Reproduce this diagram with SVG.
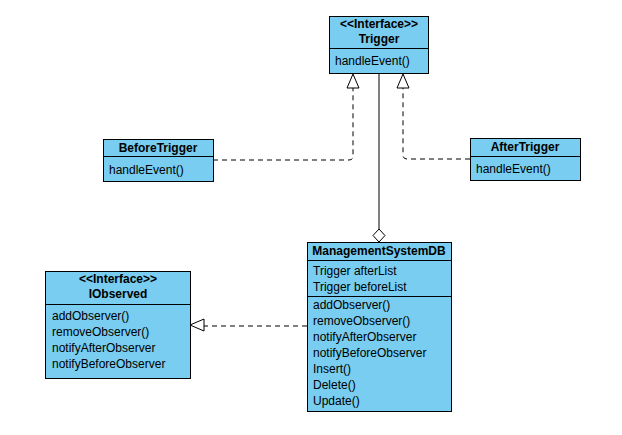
<svg xmlns="http://www.w3.org/2000/svg" width="622" height="435" viewBox="0 0 622 435">
<style>
.box{fill:#78CDF0;stroke:#000;stroke-width:1}
.ln{stroke:#000;stroke-width:1}
text{font-family:"Liberation Sans",Arial,sans-serif;font-size:12px;fill:#000}
.t{font-weight:bold;text-anchor:middle}
.c{fill:none;stroke:#000;stroke-width:1}
.d{stroke-dasharray:5,4}
</style>
<rect width="622" height="435" fill="#fff"/>
<g id="connectors">
<path class="c d" d="M213,160 H349 Q353,160 353,156 V88"/>
<polygon points="353,74 347,88 359,88" fill="#fff" stroke="#000"/>
<path class="c d" d="M470,159 H407 Q403,159 403,155 V88"/>
<polygon points="403,74 397,88 409,88" fill="#fff" stroke="#000"/>
<path class="c" d="M379,73 V229"/>
<polygon points="379,229 385,235.5 379,242 373,235.5" fill="#fff" stroke="#000"/>
<path class="c d" d="M307,326 H204"/>
<polygon points="190,325 204,319 204,331" fill="#fff" stroke="#000"/>
</g>
<g id="Trigger">
<rect class="box" x="329.5" y="16.5" width="99" height="57"/>
<line class="ln" x1="329.5" y1="48.5" x2="428.5" y2="48.5"/>
<text class="t" x="379" y="28">&lt;&lt;Interface&gt;&gt;</text>
<text class="t" x="379" y="43">Trigger</text>
<text x="335" y="65">handleEvent()</text>
</g>
<g id="BeforeTrigger">
<rect class="box" x="103.5" y="139.5" width="110" height="42"/>
<line class="ln" x1="103.5" y1="156.5" x2="213.5" y2="156.5"/>
<text class="t" x="158" y="152">BeforeTrigger</text>
<text x="109" y="174">handleEvent()</text>
</g>
<g id="AfterTrigger">
<rect class="box" x="470.5" y="138.5" width="110" height="42"/>
<line class="ln" x1="470.5" y1="156.5" x2="580.5" y2="156.5"/>
<text class="t" x="525" y="151">AfterTrigger</text>
<text x="476" y="173">handleEvent()</text>
</g>
<g id="ManagementSystemDB">
<rect class="box" x="307.5" y="242.5" width="144" height="169"/>
<line class="ln" x1="307.5" y1="260.5" x2="451.5" y2="260.5"/>
<line class="ln" x1="307.5" y1="296.5" x2="451.5" y2="296.5"/>
<text class="t" x="379" y="255">ManagementSystemDB</text>
<text x="313" y="275">Trigger afterList</text>
<text x="313" y="291">Trigger beforeList</text>
<text x="313" y="309">addObserver()</text>
<text x="313" y="325">removeObserver()</text>
<text x="313" y="341">notifyAfterObserver</text>
<text x="313" y="357">notifyBeforeObserver</text>
<text x="313" y="373">Insert()</text>
<text x="313" y="389">Delete()</text>
<text x="313" y="405">Update()</text>
</g>
<g id="IObserved">
<rect class="box" x="45.5" y="271.5" width="145" height="107"/>
<line class="ln" x1="45.5" y1="304.5" x2="190.5" y2="304.5"/>
<text class="t" x="118" y="283">&lt;&lt;Interface&gt;&gt;</text>
<text class="t" x="118" y="298">IObserved</text>
<text x="52" y="320">addObserver()</text>
<text x="52" y="336">removeObserver()</text>
<text x="52" y="352">notifyAfterObserver</text>
<text x="52" y="368">notifyBeforeObserver</text>
</g>
</svg>
